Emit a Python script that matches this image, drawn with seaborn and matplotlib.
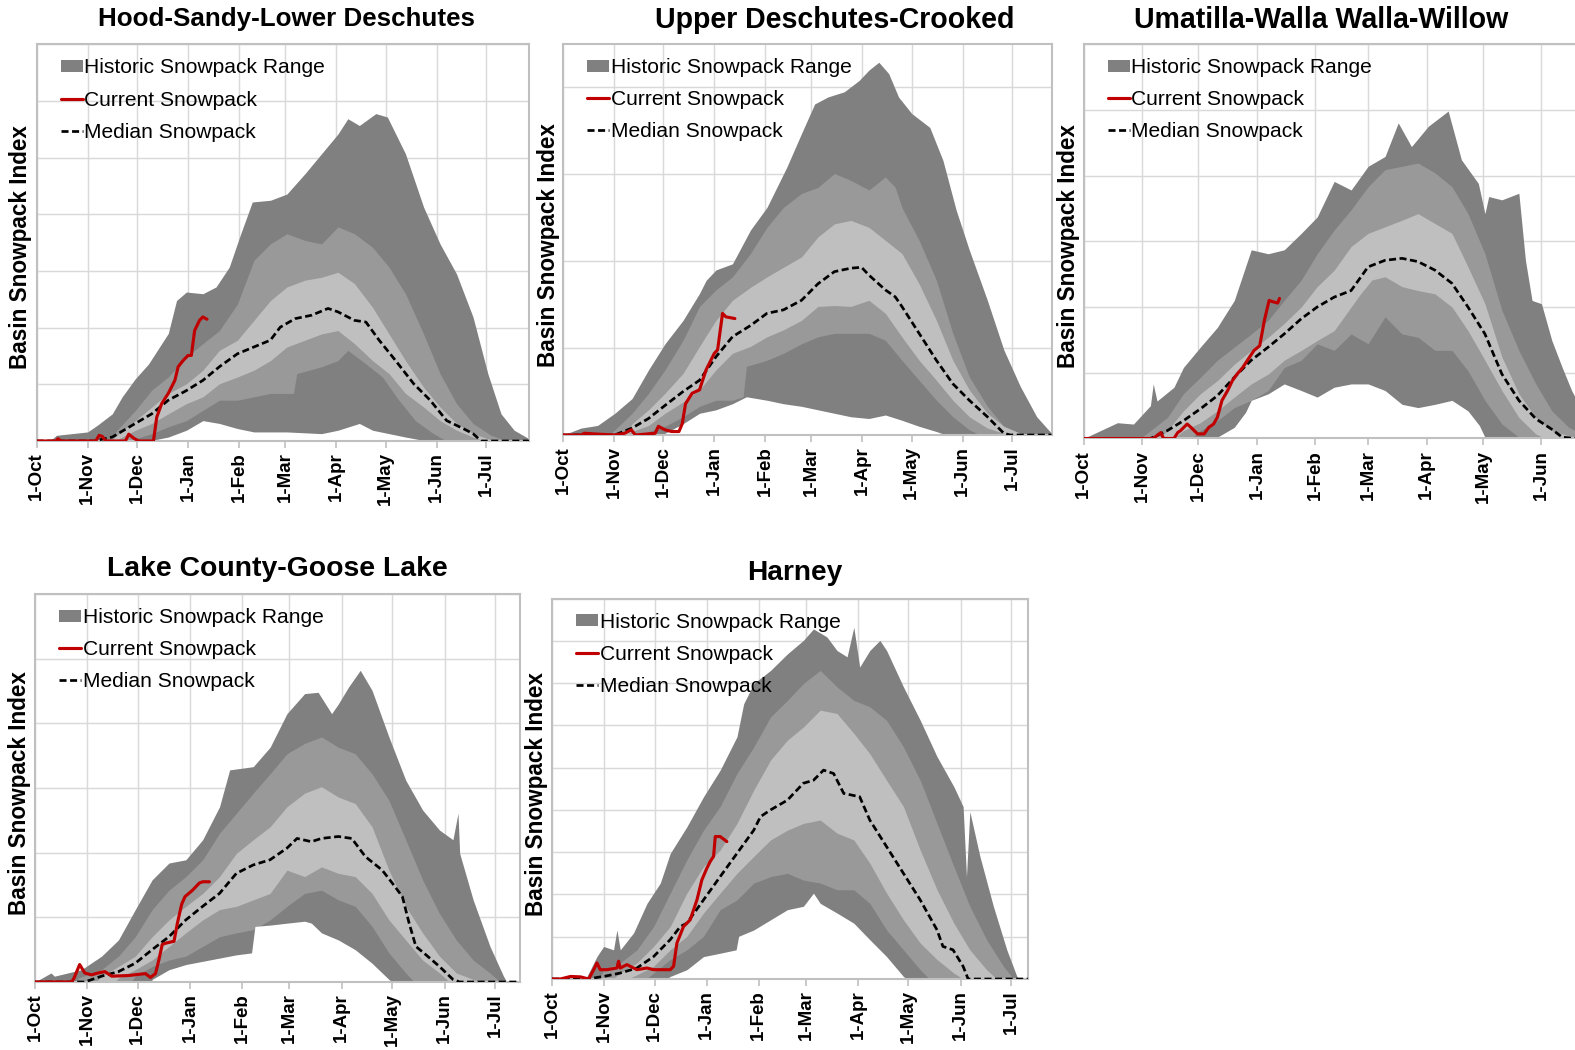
import matplotlib
matplotlib.use("Agg")
import matplotlib.pyplot as plt
import seaborn as sns
from matplotlib.patches import Patch
from matplotlib.lines import Line2D

# ==========================
# 1. Datos (dia del año hidrologico, indice)
# ==========================

month_days = [0, 31, 61, 92, 123, 151, 182, 212, 243, 273]
month_labels = ["1-Oct", "1-Nov", "1-Dec", "1-Jan", "1-Feb", "1-Mar",
                "1-Apr", "1-May", "1-Jun", "1-Jul"]

# --- Hood-Sandy-Lower Deschutes
hood_max = [(0,0),(9,0.02),(12,0.1),(31,0.16),(37,0.28),(46,0.48),(52,0.78),(60,1.1),(68,1.36),(76,1.72),(80,1.9),(85,2.48),(91,2.63),(101,2.6),(109,2.72),(117,3.07),(124,3.66),(131,4.22),(142,4.25),(152,4.36),(163,4.72),(173,5.07),(183,5.42),(189,5.69),(196,5.57),(206,5.78),(213,5.72),(224,5.07),(235,4.13),(245,3.48),(255,2.95),(265,2.19),(274,1.19),(282,0.48),(290,0.19),(299,0.04)]
hood_p90 = [(44,0),(46,0.1),(60,0.54),(70,0.9),(80,1.13),(91,1.48),(101,1.72),(111,1.95),(122,2.42),(132,3.19),(142,3.48),(152,3.66),(163,3.54),(173,3.48),(183,3.78),(193,3.66),(204,3.42),(214,3.07),(224,2.6),(235,1.89),(245,1.19),(255,0.66),(265,0.31),(276,0.1),(286,0)]
hood_p70 = [(45,0),(50,0.13),(60,0.36),(70,0.6),(80,0.84),(91,1.01),(101,1.25),(111,1.6),(122,1.78),(132,2.13),(142,2.48),(152,2.72),(163,2.84),(173,2.89),(183,2.98),(193,2.78),(204,2.36),(214,1.89),(224,1.42),(235,0.95),(245,0.6),(255,0.31),(265,0.13),(276,0.02),(280,0)]
hood_p30 = [(48,0),(50,0.04),(60,0.19),(70,0.31),(80,0.48),(91,0.66),(101,0.78),(111,1.01),(122,1.13),(132,1.25),(142,1.42),(152,1.66),(163,1.78),(173,1.89),(183,1.95),(193,1.72),(204,1.42),(214,1.19),(224,0.84),(235,0.6),(245,0.36),(255,0.19),(265,0.07),(272,0)]
hood_p10 = [(56,0),(60,0.04),(70,0.13),(80,0.25),(91,0.36),(101,0.54),(111,0.72),(122,0.72),(132,0.78),(142,0.84),(156,0.84),(158,1.19),(173,1.31),(183,1.42),(189,1.6),(200,1.36),(210,1.13),(220,0.72),(230,0.36),(241,0.13),(249,0)]
hood_min = [(68,0),(80,0.07),(91,0.19),(101,0.36),(111,0.31),(122,0.22),(132,0.16),(152,0.16),(173,0.13),(183,0.19),(196,0.31),(204,0.19),(214,0.13),(224,0.07),(237,0)]
hood_med = [(0,0),(35,0),(46,0.07),(60,0.31),(70,0.48),(80,0.72),(91,0.89),(101,1.07),(111,1.31),(122,1.54),(132,1.66),(142,1.78),(148,2.01),(157,2.16),(167,2.22),(177,2.34),(183,2.28),(193,2.13),(200,2.1),(208,1.78),(218,1.42),(229,1.01),(239,0.72),(249,0.36),(259,0.22),(265,0.13),(270,0),(299,0)]
hood_cur = [(0,0),(12,0),(13,0.04),(15,0),(36,0),(38,0.1),(40,0.08),(42,0),(54,0),(56,0.12),(59,0.05),(62,0),(71,0),(73,0.42),(76,0.66),(80,0.84),(84,1.07),(86,1.31),(89,1.42),(92,1.51),(94,1.51),(96,1.95),(99,2.13),(101,2.19),(103.5,2.15)]

# --- Upper Deschutes-Crooked
upper_max = [(0,0),(11,0.08),(21,0.11),(31.5,0.25),(42,0.42),(52,0.75),(62,1.05),(73,1.32),(83,1.63),(87,1.78),(93,1.9),(103,1.97),(114,2.36),(124,2.62),(130,2.85),(136,3.08),(145,3.47),(153,3.81),(161,3.89),(171,3.95),(180,4.08),(186,4.2),(192,4.29),(198,4.16),(204,3.89),(212,3.7),(223,3.54),(231,3.16),(239,2.59),(247,2.13),(258,1.55),(268,0.98),(278,0.56),(288,0.21),(297,0.02)]
upper_p90 = [(28,0),(31.5,0.06),(42,0.25),(52,0.48),(62,0.75),(73,1.09),(83,1.48),(93,1.67),(103,1.82),(114,2.09),(124,2.39),(134,2.62),(145,2.78),(155,2.85),(165,3.01),(175,2.93),(186,2.82),(196,2.97),(202,2.85),(206,2.62),(216.5,2.24),(227,1.78),(237,1.17),(247,0.67),(258,0.33),(268,0.1),(278,0.02),(282,0)]
upper_p70 = [(38,0),(42,0.13),(52,0.29),(62,0.48),(73,0.71),(83,1.02),(93,1.32),(103,1.55),(114,1.7),(124,1.82),(134,1.93),(145,2.05),(155,2.28),(165,2.43),(175,2.47),(186,2.39),(196,2.24),(206,2.09),(216.5,1.74),(227,1.32),(237,0.86),(247,0.52),(258,0.25),(268,0.1),(278,0.02),(282,0)]
upper_p30 = [(38,0),(42,0.04),(52,0.11),(62,0.25),(73,0.38),(83,0.52),(93,0.75),(103,0.94),(114,1.02),(124,1.13),(134,1.21),(145,1.32),(155,1.48),(165,1.49),(175,1.48),(186,1.55),(196,1.4),(206,1.13),(216.5,0.86),(227,0.63),(237,0.4),(247,0.21),(258,0.08),(268,0.02),(272,0)]
upper_p10 = [(48,0),(52,0.04),(62,0.1),(73,0.21),(83,0.33),(93,0.4),(103,0.4),(109.5,0.44),(111.5,0.79),(124,0.86),(134,0.94),(145,1.05),(155,1.13),(165,1.17),(175,1.17),(186,1.17),(196,1.09),(206,0.86),(216.5,0.63),(227,0.4),(237,0.21),(247,0.06),(253.5,0)]
upper_min = [(60,0),(62,0.02),(73,0.13),(83,0.25),(93,0.29),(103,0.36),(111.5,0.44),(124,0.4),(134,0.36),(145,0.33),(155,0.29),(165,0.25),(175,0.21),(186,0.19),(196,0.23),(206,0.17),(216.5,0.1),(227,0.04),(233,0)]
upper_med = [(0,0),(31.5,0),(42,0.08),(52,0.19),(62,0.34),(73,0.5),(83,0.63),(93,0.9),(103,1.13),(114,1.26),(124,1.4),(134,1.44),(145,1.55),(155,1.74),(165,1.88),(175,1.92),(181.5,1.93),(186,1.84),(196,1.67),(202,1.59),(206,1.48),(216.5,1.17),(227,0.86),(237,0.59),(247,0.4),(258,0.21),(268,0.02),(272,0),(297,0)]
upper_cur = [(0,0),(11,0),(13,0.02),(21,0.01),(31.5,0),(37.5,0.02),(41.5,0.06),(44,0),(56,0.02),(58,0.1),(62,0.06),(66,0.04),(70.5,0.04),(72.5,0.13),(74.5,0.36),(78.5,0.48),(83,0.52),(87,0.75),(92,0.94),(94,0.98),(97,1.4),(99,1.36),(104.5,1.34)]

# --- Umatilla-Walla Walla-Willow
umatilla_max = [(0,0),(9,0.12),(18,0.24),(26.5,0.22),(35.5,0.5),(37,0.83),(39,0.57),(48,0.78),(53,1.08),(62,1.39),(71,1.69),(80,2.1),(89,2.87),(98,2.81),(106.5,2.87),(115.5,3.12),(124,3.37),(133,3.91),(142,3.78),(151,4.14),(160,4.29),(167,4.8),(174,4.44),(183,4.75),(193.5,4.98),(200.5,4.24),(209.5,3.88),(213,3.42),(215,3.68),(222,3.63),(231,3.73),(234.5,2.71),(238,2.1),(243,2.05),(248.5,1.49),(254,1.08),(259,0.73),(261,0.62)]
umatilla_p90 = [(30,0),(35.5,0.12),(44.5,0.32),(53,0.68),(62,0.93),(71,1.19),(80,1.39),(89,1.59),(98,1.8),(106.5,2.1),(115.5,2.41),(124,2.81),(133,3.17),(142,3.48),(151,3.83),(160,4.09),(169,4.14),(177.5,4.19),(186.5,4.04),(195.5,3.83),(204,3.42),(213,2.81),(222,1.95),(231,1.34),(240,0.83),(248.5,0.42),(257.5,0.17),(261,0.12)]
umatilla_p70 = [(40,0),(44.5,0.12),(53,0.42),(62,0.68),(71,0.88),(80,1.13),(89,1.34),(98,1.54),(106.5,1.75),(115.5,2.0),(124,2.31),(133,2.56),(142,2.92),(151,3.12),(160,3.22),(169,3.32),(177.5,3.42),(186.5,3.27),(195.5,3.12),(204,2.61),(213,2.05),(222,1.24),(231,0.68),(240,0.32),(248.5,0.12),(257.5,0.04),(261,0.02)]
umatilla_p30 = [(48,0),(53,0.12),(62,0.24),(71,0.42),(80,0.63),(89,0.83),(98,0.98),(106.5,1.19),(115.5,1.34),(124,1.49),(133,1.64),(142,2.0),(147,2.2),(153,2.41),(160,2.46),(169,2.31),(177.5,2.25),(186.5,2.2),(195.5,2.0),(204,1.64),(213,1.19),(222,0.73),(231,0.32),(240,0.07),(245,0)]
umatilla_p10 = [(57,0),(62,0.12),(71,0.27),(80,0.47),(89,0.58),(98,0.73),(106.5,1.08),(115.5,1.19),(124,1.44),(133,1.34),(142,1.59),(151,1.44),(160,1.85),(169,1.59),(177.5,1.54),(186.5,1.34),(195.5,1.34),(204,1.03),(213,0.58),(222,0.22),(231,0.02),(233,0)]
umatilla_min = [(68,0),(71,0.02),(80,0.17),(86,0.4),(89,0.58),(98,0.68),(106.5,0.83),(115.5,0.73),(124,0.63),(133,0.78),(142,0.83),(151,0.83),(160,0.73),(169,0.52),(177.5,0.47),(186.5,0.52),(195.5,0.58),(204,0.42),(210,0.2),(213,0.02),(215,0)]
umatilla_med = [(0,0),(35.5,0),(44.5,0.12),(53,0.27),(62,0.45),(71,0.65),(80,0.93),(89,1.19),(98,1.39),(106.5,1.59),(115.5,1.82),(124,2.0),(133,2.15),(142,2.25),(151,2.61),(160,2.71),(169,2.74),(177.5,2.69),(186.5,2.56),(195.5,2.36),(204,2.0),(213,1.59),(222,0.98),(231,0.58),(240,0.3),(248.5,0.14),(254,0.02),(261,0)]
umatilla_cur = [(0,0),(37,0),(41,0.09),(42.5,0),(48,0),(50,0.09),(51.5,0.12),(55,0.22),(57,0.17),(60.5,0.07),(64,0.07),(66.5,0.17),(69,0.22),(71,0.32),(73.5,0.58),(76.5,0.73),(79,0.88),(81.5,0.98),(84.5,1.08),(87,1.19),(90.5,1.34),(93.5,1.41),(96,1.8),(98.5,2.1),(100.5,2.08),(103,2.06),(104,2.13)]

# --- Lake County-Goose Lake
lake_max = [(0,0),(9.5,0.14),(11.5,0.09),(27.5,0.19),(39.5,0.4),(49.5,0.65),(59.5,1.12),(69.5,1.58),(79.5,1.84),(89.5,1.89),(99.5,2.2),(109.5,2.71),(115.5,3.28),(129.5,3.33),(139.5,3.63),(149.5,4.15),(160,4.46),(168,4.48),(176,4.15),(180,4.3),(186,4.56),(193,4.82),(200,4.51),(210,3.79),(220,3.12),(230,2.66),(240,2.35),(248,2.2),(251,2.61),(252,1.99),(260,1.27),(270,0.55),(278,0.09),(280,0)]
lake_p90 = [(25,0),(25.5,0.06),(39.5,0.19),(49.5,0.4),(59.5,0.7),(69.5,1.12),(79.5,1.42),(89.5,1.63),(99.5,1.89),(109.5,2.3),(119.5,2.61),(129.5,2.92),(139.5,3.22),(149.5,3.53),(160,3.69),(170,3.79),(180,3.63),(190,3.53),(200,3.22),(210,2.81),(220,2.2),(230,1.58),(240,1.06),(250,0.65),(260,0.34),(270,0.14),(276,0)]
lake_p70 = [(36,0),(39.5,0.09),(49.5,0.24),(59.5,0.4),(69.5,0.7),(79.5,0.96),(89.5,1.17),(99.5,1.37),(109.5,1.63),(119.5,1.99),(129.5,2.2),(139.5,2.4),(149.5,2.71),(160,2.92),(170,3.02),(180,2.86),(190,2.76),(200,2.4),(210,1.73),(220,1.17),(230,0.76),(240,0.4),(250,0.14),(260,0.04),(264,0)]
lake_p30 = [(47,0),(49.5,0.06),(59.5,0.19),(69.5,0.34),(79.5,0.55),(89.5,0.76),(99.5,0.96),(109.5,1.12),(119.5,1.17),(129.5,1.27),(139.5,1.37),(149.5,1.73),(160,1.63),(170,1.78),(180,1.68),(190,1.63),(200,1.37),(210,0.96),(220,0.65),(230,0.34),(240,0.14),(246,0)]
lake_p10 = [(57,0),(59.5,0.09),(69.5,0.24),(79.5,0.34),(89.5,0.4),(99.5,0.55),(109.5,0.7),(119.5,0.76),(129.5,0.81),(139.5,0.96),(149.5,1.17),(160,1.37),(170,1.42),(180,1.27),(190,1.17),(200,0.86),(210,0.45),(220,0.14),(225,0)]
lake_min = [(69,0),(69.5,0.04),(79.5,0.19),(89.5,0.27),(99.5,0.32),(119.5,0.42),(128.5,0.45),(130.5,0.86),(139.5,0.88),(149.5,0.91),(160,0.94),(164,0.91),(170,0.76),(180,0.65),(190,0.5),(200,0.29),(210,0.04),(212,0)]
lake_med = [(0,0),(29.5,0),(39.5,0.09),(49.5,0.16),(59.5,0.29),(69.5,0.5),(79.5,0.7),(89.5,0.96),(99.5,1.17),(109.5,1.37),(119.5,1.68),(129.5,1.81),(139.5,1.89),(149.5,2.07),(155.5,2.22),(164,2.17),(170,2.22),(180,2.25),(188,2.22),(196,1.94),(206,1.73),(212,1.53),(218,1.32),(222,0.91),(226,0.55),(232,0.42),(240,0.24),(248,0.04),(252,0),(287,0)]
lake_cur = [(0,0),(21.5,0),(23,0.05),(26.5,0.27),(29.5,0.14),(33.5,0.11),(37.5,0.14),(41.5,0.16),(45.5,0.09),(55.5,0.1),(65.5,0.13),(68.5,0.07),(71.5,0.13),(73.5,0.34),(75.5,0.58),(77.5,0.6),(82.5,0.63),(84.5,0.91),(87,1.2),(89,1.32),(93.5,1.42),(97.5,1.53),(99.5,1.55),(103.5,1.55)]

# --- Harney
harney_max = [(0,0),(20.8,0.06),(26.7,0.53),(30.7,0.77),(36.6,0.69),(38.6,1.16),(40.6,0.69),(48.5,1.09),(56.5,1.79),(64.4,2.27),(70.3,2.97),(80.2,3.6),(90.1,4.31),(100,4.94),(110,5.73),(114,6.51),(120,6.99),(130,7.3),(140,7.69),(149.5,8.01),(155.5,8.28),(163.5,8.09),(169.5,7.77),(175.5,7.62),(179.5,8.32),(183,7.38),(189,7.77),(195,8.01),(199,7.77),(209,6.91),(219,6.12),(229,5.26),(239,4.55),(244.5,4.08),(246.5,2.42),(248.5,3.96),(254.5,2.9),(262.5,1.72),(270.5,0.69),(276.5,0.06),(277.5,0)]
harney_p90 = [(28,0),(30.7,0.22),(40.6,0.38),(50.5,0.69),(60.4,1.24),(70.3,2.03),(80.2,2.82),(90.1,3.52),(100,4.08),(110,4.86),(120,5.49),(130,6.2),(140,6.59),(149.5,6.99),(159.5,7.3),(169.5,6.91),(179.5,6.59),(189,6.44),(199,6.12),(209,5.49),(219,4.7),(229,3.68),(239,2.66),(248.5,1.72),(258.5,0.93),(268.5,0.3),(274.5,0)]
harney_p70 = [(36,0),(40.6,0.14),(50.5,0.38),(60.4,0.77),(70.3,1.24),(80.2,2.03),(90.1,2.66),(100,3.05),(110,3.68),(120,4.47),(130,5.18),(140,5.65),(149.5,5.96),(159.5,6.36),(169.5,6.28),(179.5,5.81),(189,5.33),(199,4.7),(209,4.08),(219,3.05),(229,2.11),(239,1.32),(248.5,0.69),(258.5,0.22),(264.5,0)]
harney_p30 = [(45,0),(50.5,0.1),(60.4,0.3),(70.3,0.69),(80.2,1.01),(90.1,1.56),(100,2.03),(110,2.5),(120,2.9),(130,3.29),(140,3.52),(149.5,3.68),(159.5,3.76),(169.5,3.45),(179.5,3.29),(189,2.74),(199,2.03),(209,1.4),(219,0.85),(229,0.46),(239,0.14),(244.5,0)]
harney_p10 = [(56,0),(60.4,0.14),(70.3,0.46),(80.2,0.69),(90.1,1.01),(100,1.64),(110,1.87),(120,2.27),(130,2.42),(140,2.5),(149.5,2.34),(159.5,2.27),(169.5,2.11),(179.5,2.11),(189,1.79),(199,1.16),(209,0.69),(219,0.22),(224.5,0)]
harney_min = [(68,0),(70.3,0.06),(80.2,0.22),(90.1,0.53),(100,0.61),(109.5,0.69),(111,1.01),(120,1.16),(130,1.4),(140,1.64),(149.5,1.72),(155.5,2.03),(159.5,1.79),(169.5,1.56),(179.5,1.32),(189,0.93),(199,0.53),(209,0.06),(211,0)]
harney_med = [(0,0),(20.8,0),(30.7,0.06),(40.6,0.14),(50.5,0.26),(60.4,0.53),(70.3,0.93),(76.3,1.24),(80.2,1.32),(90.1,1.87),(100,2.42),(110,2.97),(120,3.52),(124,3.84),(130,4.0),(140,4.23),(149.5,4.63),(155.5,4.7),(161.5,4.94),(167.5,4.86),(173.5,4.39),(183,4.31),(189,3.76),(199,3.13),(209,2.5),(219,1.87),(229,1.16),(232.5,0.77),(238.5,0.69),(244.5,0.3),(247.5,0),(283,0)]
harney_cur = [(0,0),(5,0),(11,0.06),(17,0.05),(21.8,0),(24.8,0.22),(26.7,0.38),(28.7,0.22),(32.7,0.22),(38.6,0.26),(39.6,0.42),(40.6,0.26),(44.6,0.34),(50.5,0.22),(56.5,0.26),(60.4,0.22),(70.3,0.22),(72.3,0.3),(74.3,0.85),(78.2,1.24),(82.2,1.4),(86.2,1.87),(89.1,2.34),(92.1,2.62),(94.1,2.78),(96.1,2.9),(97.1,3.37),(100,3.37),(104,3.25)]

# ==========================
# 2. Estilo
# ==========================

sns.set_theme(style="white")
plt.rcParams["font.family"] = ["Liberation Sans", "DejaVu Sans"]
plt.rcParams["text.color"] = "black"
plt.rcParams["xtick.labelcolor"] = "black"

DARK = "#808080"
MED = "#999999"
LIGHT = "#bfbfbf"
RED = "#c00000"
GRID = "#d9d9d9"
FRAME = "#c0c0c0"
MED_DASH = (0, (2.6, 1.3))

W, H = 1575, 1050
fig = plt.figure(figsize=(W / 150, H / 150), dpi=150)


def panel(box, xmax, ymax, title, title_xy, title_size, ylab_xy, n_ticks,
          bands, median, current):
    left, top, right, bottom = box
    wpx, hpx = right - left, bottom - top
    ax = fig.add_axes([left / W, 1 - bottom / H, wpx / W, hpx / H])

    # bandas historicas, de afuera hacia adentro
    for serie, col in zip(bands, [DARK, MED, LIGHT, MED, DARK, "white"]):
        x, y = zip(*serie)
        ax.fill_between(x, 0, y, color=col, lw=0, zorder=1)

    x, y = zip(*median)
    sns.lineplot(x=list(x), y=list(y), ax=ax, color="black", lw=1.3,
                 linestyle=MED_DASH, errorbar=None, sort=False, legend=False, zorder=3)
    x, y = zip(*current)
    sns.lineplot(x=list(x), y=list(y), ax=ax, color=RED, lw=1.5,
                 errorbar=None, sort=False, legend=False, zorder=4)

    ax.set_xlim(0, xmax)
    ax.set_ylim(0, ymax)
    ax.set_xticks(month_days[:n_ticks])
    ax.set_xticklabels(month_labels[:n_ticks], rotation=90, fontsize=9,
                       fontweight="bold", color="black")
    ax.set_xticks(month_days, minor=True)
    ax.set_yticks(range(0, int(ymax) + 1))
    ax.set_yticklabels([])
    ax.set_xlabel("")
    ax.set_ylabel("")
    ax.set_axisbelow(True)
    ax.grid(True, which="both", axis="x", color=GRID, lw=0.7)
    ax.grid(True, axis="y", color=GRID, lw=0.7)
    ax.tick_params(axis="x", which="major", length=3.5, width=0.8, color=FRAME,
                   pad=2, bottom=True)
    ax.tick_params(axis="x", which="minor", length=0)
    ax.tick_params(axis="y", length=0)
    for s in ax.spines.values():
        s.set_color(FRAME)
        s.set_linewidth(1.0)

    handles = [Patch(facecolor=DARK, edgecolor="none"),
               Line2D([], [], color=RED, lw=1.5),
               Line2D([], [], color="black", lw=1.3, linestyle=MED_DASH)]
    ax.legend(handles, ["Historic Snowpack Range", "Current Snowpack", "Median Snowpack"],
              loc="upper left", bbox_to_anchor=(24 / wpx, 1 - 14 / hpx),
              frameon=False, fontsize=10.1, handlelength=1.05, handleheight=0.5,
              handletextpad=0.08, labelspacing=0.62, borderpad=0, borderaxespad=0)

    fig.text(title_xy[0] / W, 1 - title_xy[1] / H, title, ha="center", va="center",
             fontsize=title_size, fontweight="bold", color="black")
    fig.text(ylab_xy[0] / W, 1 - ylab_xy[1] / H, "Basin Snowpack Index", rotation=90,
             ha="center", va="center", fontsize=10.8, fontweight="bold", color="black")
    return ax


# ==========================
# 3. Paneles
# ==========================

panel((36.5, 44.5, 529, 441), 299, 7, "Hood-Sandy-Lower Deschutes", (286, 19), 12.5,
      (21, 247), 10,
      [hood_max, hood_p90, hood_p70, hood_p30, hood_p10, hood_min], hood_med, hood_cur)

panel((563, 44, 1052, 435), 297.3, 4.5, "Upper Deschutes-Crooked", (835, 20), 13.7,
      (548, 245), 10,
      [upper_max, upper_p90, upper_p70, upper_p30, upper_p10, upper_min], upper_med, upper_cur)

panel((1083.5, 44, 1647, 438.5), 299, 6, "Umatilla-Walla Walla-Willow", (1321, 20), 13.7,
      (1068, 246), 9,
      [umatilla_max, umatilla_p90, umatilla_p70, umatilla_p30, umatilla_p10, umatilla_min],
      umatilla_med, umatilla_cur)

panel((35, 594, 520, 982), 287.8, 6, "Lake County-Goose Lake", (277, 569), 13.6,
      (20, 793), 10,
      [lake_max, lake_p90, lake_p70, lake_p30, lake_p10, lake_min], lake_med, lake_cur)

panel((552, 598.5, 1028, 979), 283.1, 9, "Harney", (795, 573), 13.5,
      (537, 794), 10,
      [harney_max, harney_p90, harney_p70, harney_p30, harney_p10, harney_min],
      harney_med, harney_cur)

fig.savefig("out.png", dpi=150)
